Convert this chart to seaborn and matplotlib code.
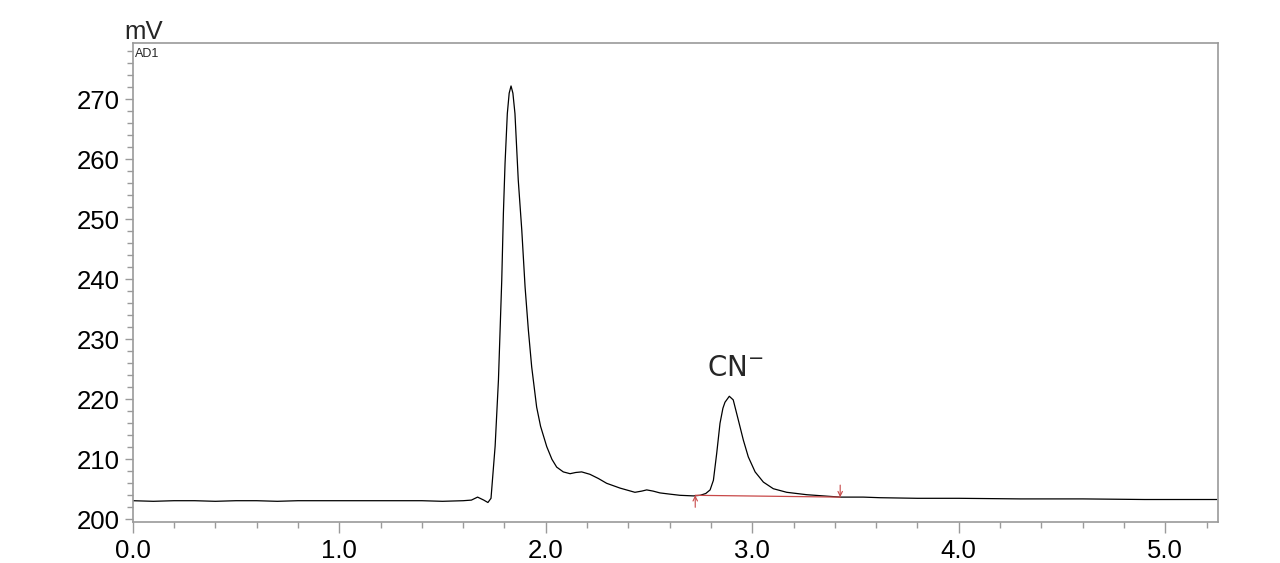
import numpy as np
import pandas as pd
import matplotlib
matplotlib.use("Agg")
import matplotlib.pyplot as plt
from matplotlib.ticker import MultipleLocator
import seaborn as sns

# chromatogram trace (time in min, signal in mV)
times = [0.0, 0.1, 0.2, 0.3, 0.4, 0.5, 0.6, 0.7, 0.8, 0.9, 1.0, 1.1, 1.2, 1.3,
         1.4, 1.5, 1.6, 1.64, 1.67, 1.70, 1.72, 1.735, 1.755, 1.771, 1.787,
         1.795, 1.803, 1.814, 1.823, 1.832, 1.841, 1.851, 1.867, 1.884, 1.9,
         1.916, 1.932, 1.956, 1.975, 2.005, 2.03, 2.053, 2.085, 2.118, 2.145,
         2.174, 2.214, 2.255, 2.295, 2.36, 2.432, 2.465, 2.489, 2.52, 2.553,
         2.6, 2.65, 2.715, 2.748, 2.775, 2.796, 2.812, 2.828, 2.844, 2.858,
         2.868, 2.889, 2.908, 2.933, 2.957, 2.981, 3.014, 3.054, 3.102, 3.167,
         3.264, 3.344, 3.426, 3.538, 3.619, 3.8, 4.0, 4.3, 4.6, 4.9, 5.25]
signal = [203.1, 203.0, 203.1, 203.1, 203.0, 203.1, 203.1, 203.0, 203.1, 203.1,
          203.1, 203.1, 203.1, 203.1, 203.1, 203.0, 203.1, 203.2, 203.7, 203.2,
          202.8, 203.5, 212.2, 223.2, 239.8, 251.0, 259.3, 267.6, 271.0, 272.2,
          271.0, 267.6, 256.5, 248.2, 238.7, 231.5, 225.4, 218.7, 215.5, 212.1,
          210.0, 208.7, 207.9, 207.6, 207.8, 207.9, 207.5, 206.8, 206.0, 205.2,
          204.5, 204.7, 204.9, 204.7, 204.4, 204.2, 204.0, 203.9, 204.0, 204.3,
          204.9, 206.5, 211.0, 216.0, 218.5, 219.5, 220.5, 219.9, 216.5, 213.2,
          210.4, 207.9, 206.2, 205.1, 204.5, 204.1, 203.9, 203.7, 203.7, 203.6,
          203.5, 203.5, 203.4, 203.4, 203.3, 203.3]

# integration baseline of the CN- peak
base_times = [2.724, 3.426]
base_values = [204.0, 203.7]

peak_label = "CN$^{-}$"
peak_label_pos = (2.917, 225.2)
channel = "AD1"
y_unit = "mV"

df = pd.DataFrame({"time": times, "signal": signal})

sns.set_style("ticks")
plt.rcParams["font.family"] = ["Liberation Sans", "DejaVu Sans"]
plt.rcParams["mathtext.default"] = "regular"

fig = plt.figure(figsize=(12.8, 5.63), dpi=100)
ax = fig.add_axes([0.1037, 0.0728, 0.8476, 0.8502])

sns.lineplot(data=df, x="time", y="signal", ax=ax, color="black", lw=0.9)

red = "#c84848"
ax.plot(base_times, base_values, color=red, lw=0.9)
ax.annotate("", xy=(base_times[0], base_values[0]), xytext=(base_times[0], base_values[0] - 2.0),
            arrowprops=dict(arrowstyle="->", color=red, lw=0.8, shrinkA=0, shrinkB=0,
                            mutation_scale=8))
ax.annotate("", xy=(base_times[1], base_values[1]), xytext=(base_times[1], base_values[1] + 2.0),
            arrowprops=dict(arrowstyle="->", color=red, lw=0.8, shrinkA=0, shrinkB=0,
                            mutation_scale=8))

ax.text(peak_label_pos[0], peak_label_pos[1], peak_label, ha="center", va="center",
        fontsize=20, family=["DejaVu Sans"])

ax.set_xlim(0, 5.254)
ax.set_ylim(199.55, 279.3)
ax.xaxis.set_major_locator(MultipleLocator(1.0))
ax.xaxis.set_minor_locator(MultipleLocator(0.2))
ax.yaxis.set_major_locator(MultipleLocator(10))
ax.yaxis.set_minor_locator(MultipleLocator(2))
ax.xaxis.set_major_formatter(plt.FormatStrFormatter("%.1f"))
ax.set_xlabel("")
ax.set_ylabel("")

spine_col = "#9a9a9a"
for s in ax.spines.values():
    s.set_color(spine_col)
    s.set_linewidth(1.2)
ax.tick_params(axis="both", which="major", colors=spine_col, labelcolor="black",
               labelsize=18.5, length=6, width=1)
ax.tick_params(axis="both", which="minor", colors=spine_col, length=4, width=1)
ax.tick_params(axis="x", which="major", length=8, pad=4)

ax.text(0.002, 0.99, channel, transform=ax.transAxes, ha="left", va="top", fontsize=9)
fig.text(0.112, 0.944, y_unit, ha="center", va="center", fontsize=18.5)

fig.savefig("out.png", dpi=100)
